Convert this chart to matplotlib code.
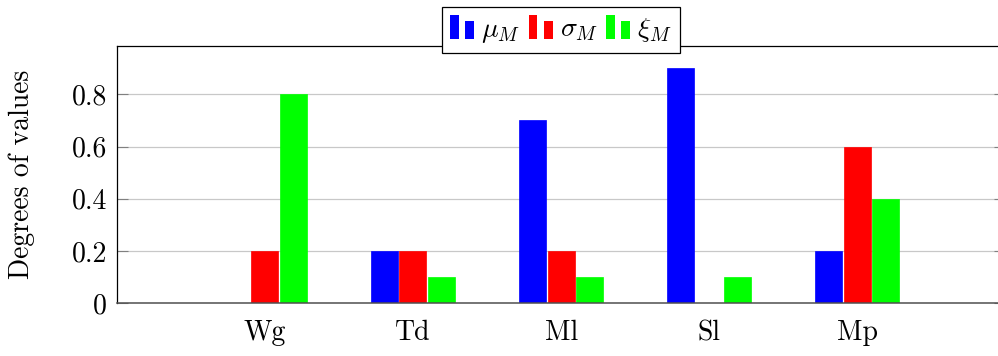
import matplotlib
matplotlib.use('Agg')
import matplotlib.pyplot as plt
import numpy as np
from matplotlib.legend_handler import HandlerBase
from matplotlib.patches import Rectangle
from matplotlib.container import BarContainer

categories = ['Wg', 'Td', 'Ml', 'Sl', 'Mp']
mu = [0, 0.2, 0.7, 0.9, 0.2]
sigma = [0.2, 0.2, 0.2, 0, 0.6]
xi = [0.8, 0.1, 0.1, 0.1, 0.4]
series_labels = [r'$\mu_M$', r'$\sigma_M$', r'$\xi_M$']
yticks = [0, 0.2, 0.4, 0.6, 0.8]
ytick_labels = ['0', '0.2', '0.4', '0.6', '0.8']
ylabel = 'Degrees of values'

plt.rcParams['font.family'] = 'cmr10'
plt.rcParams['mathtext.fontset'] = 'cm'
plt.rcParams['axes.unicode_minus'] = False
plt.rcParams['axes.formatter.use_mathtext'] = True


class TwoBar(HandlerBase):
    def create_artists(self, legend, orig_handle, xdescent, ydescent,
                       width, height, fontsize, trans):
        c = orig_handle.patches[0].get_facecolor()
        bw = width * 0.37
        r1 = Rectangle((-xdescent, -ydescent), bw, height, facecolor=c,
                       edgecolor='none', transform=trans)
        r2 = Rectangle((-xdescent + width - bw, -ydescent), bw, height * 0.76,
                       facecolor=c, edgecolor='none', transform=trans)
        return [r1, r2]


fig = plt.figure(figsize=(9.98, 3.56), dpi=100)
ax = fig.add_axes([0.1169, 0.148, 0.8906, 0.7236])
x = np.arange(len(categories))
off = 0.1926
w = 0.182
colors = ['#0000ff', '#ff0000', '#00ff00']
bars = []
for i, (vals, c, lab) in enumerate(zip([mu, sigma, xi], colors, series_labels)):
    b = ax.bar(x + (i - 1) * off, vals, w, color=c, edgecolor=c,
               linewidth=0.5, label=lab, zorder=2)
    bars.append(b)

ax.set_xlim(-1.0, 5.0)
ax.set_ylim(0, 0.986)
ax.set_xticks(x, categories)
ax.set_yticks(yticks, ytick_labels)
ax.set_axisbelow(True)
ax.yaxis.grid(True, color='#c8c8c8', lw=0.9)
ax.tick_params(axis='y', direction='in', length=8, width=0.8, color='#808080',
               left=True, right=True, labelsize=20, pad=7)
ax.tick_params(axis='x', length=0, labelsize=20, pad=12)
for s in ['left', 'top']:
    ax.spines[s].set_color('black')
    ax.spines[s].set_linewidth(0.9)
ax.spines['bottom'].set_color('#505050')
ax.spines['bottom'].set_linewidth(1.1)
ax.spines['right'].set_visible(False)

ax.set_ylabel(ylabel, fontsize=20, va='center')
ax.yaxis.set_label_coords(-0.1066, 0.5)

leg = fig.legend(bars, series_labels, handler_map={BarContainer: TwoBar()},
                 loc='center', bbox_to_anchor=(0.562, 0.9157), ncol=3,
                 frameon=True, fancybox=False, edgecolor='black', fontsize=20,
                 handlelength=0.87, handleheight=0.9, handletextpad=0.25,
                 columnspacing=0.3, borderpad=0.3, borderaxespad=0)
leg.get_frame().set_linewidth(0.9)
leg.get_frame().set_alpha(1)

fig.savefig('out.png', dpi=100)
